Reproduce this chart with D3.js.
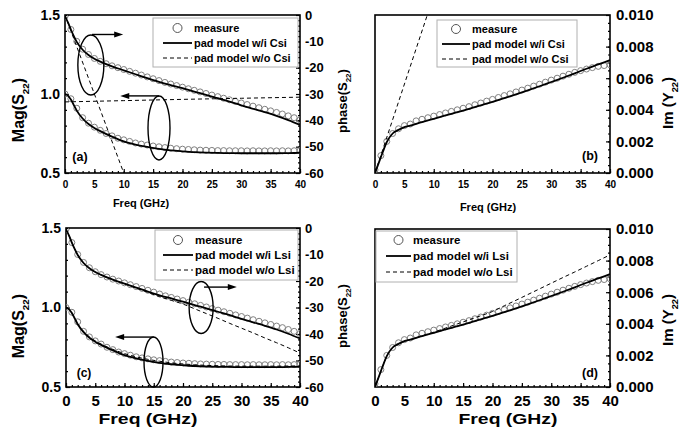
<!DOCTYPE html>
<html><head><meta charset="utf-8">
<script src="https://cdn.jsdelivr.net/npm/d3@7"></script>
<style>
body{margin:0;background:#fff}
svg text{font-family:"Liberation Sans",Arial,sans-serif;font-weight:bold;fill:#000}
</style></head><body>
<svg id="chart" width="692" height="432"></svg>
<script>
// ---- measured data, 1 GHz steps ----
const freqMeas = [0,1,2,3,4,5,6,7,8,9,10,11,12,13,14,15,16,17,18,19,20,21,22,23,24,25,26,27,28,29,30,31,32,33,34,35,36,37,38,39,40];
const magMeas = [1.00,0.97,0.91,0.85,0.815,0.79,0.77,0.75,0.735,0.72,0.71,0.70,0.69,0.683,0.677,0.671,0.666,0.661,0.657,0.654,0.651,0.649,0.647,0.645,0.644,0.643,0.642,0.642,0.641,0.641,0.641,0.640,0.641,0.640,0.640,0.641,0.640,0.641,0.640,0.641,0.642];
const phaseMeas = [-0.5,-5.5,-10,-13,-15,-16.5,-17.6,-18.5,-19.3,-20,-20.7,-21.4,-22.1,-22.8,-23.5,-24.2,-24.9,-25.6,-26.2,-26.8,-27.4,-28.0,-28.6,-29.2,-29.8,-30.4,-31.0,-31.6,-32.2,-32.8,-33.4,-34.0,-34.6,-35.2,-35.8,-36.4,-37.0,-37.6,-38.3,-39.0,-39.8];
const imMeas = [0.0002,0.0011,0.002,0.0025,0.0028,0.003,0.0031,0.0033,0.0034,0.0035,0.0036,0.0037,0.0038,0.0039,0.004,0.0041,0.0042,0.00432,0.00443,0.00455,0.00466,0.00478,0.0049,0.00501,0.00513,0.00525,0.00537,0.0055,0.00562,0.00575,0.00588,0.006,0.00613,0.00625,0.00637,0.00648,0.00658,0.00667,0.00675,0.0068,0.00685];

// ---- pad model curves ----
const freqModel = [0,0.5,1,1.5,2,3,4,5,6,8,10,12,14,16,18,20,22,24,26,28,30,32,34,36,38,40];
const magModel = [1.000,0.99,0.965,0.93,0.895,0.845,0.81,0.785,0.765,0.73,0.70,0.68,0.665,0.652,0.643,0.637,0.632,0.629,0.627,0.626,0.625,0.625,0.625,0.625,0.626,0.627];
const phaseModel = [-0.5,-2.8,-5.5,-8.0,-10.2,-13.2,-15.2,-16.6,-17.7,-19.5,-21.0,-22.5,-24.0,-25.4,-26.6,-27.8,-29.1,-30.3,-31.6,-32.9,-34.3,-35.6,-36.9,-38.3,-39.9,-41.7];
const imModel = [0,0.0005,0.001,0.0015,0.00195,0.0025,0.00273,0.0029,0.003,0.00322,0.00343,0.00364,0.00385,0.00406,0.00428,0.0045,0.00474,0.00498,0.00523,0.00549,0.00576,0.00603,0.00631,0.0066,0.00687,0.00714];

// model without Lsi (same frequency grid)
const magNoLsi = [1.0,0.99,0.966,0.932,0.898,0.85,0.815,0.79,0.77,0.737,0.71,0.69,0.674,0.662,0.652,0.645,0.64,0.636,0.634,0.632,0.631,0.631,0.631,0.631,0.632,0.633];
const phaseNoLsi = [-0.5,-2.8,-5.5,-8.0,-10.2,-13.2,-15.2,-16.6,-17.7,-19.5,-21.0,-22.7,-24.3,-25.9,-27.3,-28.7,-30.5,-32.3,-34.1,-36.0,-37.8,-39.6,-41.5,-43.3,-45.2,-47.2];
const imNoLsi = [0,0.0005,0.001,0.0015,0.00195,0.0025,0.00273,0.0029,0.003,0.00323,0.00347,0.00373,0.00399,0.00425,0.00451,0.00478,0.00514,0.00549,0.00585,0.00621,0.00657,0.00693,0.00728,0.00764,0.008,0.00836];

// model without Csi
const freqNoCsiMag = [0,10,20,30,40];
const magNoCsi = [0.950,0.958,0.966,0.973,0.980];
const freqNoCsiPhase = [0,10];
const phaseNoCsi = [0,-60];
const freqNoCsiIm = [0,8.9];
const imNoCsi = [0,0.010];

// ---- axis ticks ----
const freqTicks = [0,5,10,15,20,25,30,35,40];
const magTicks = [0.5,1.0,1.5];
const phaseTicks = [0,-10,-20,-30,-40,-50,-60];
const imTicks = [0,0.002,0.004,0.006,0.008,0.010];

const svg = d3.select("#chart");

function zipXY(xs, ys){ return xs.map((x,i)=>[x, ys[i]]); }

function rotLabel(g, x, y, main, sub, tail, size){
  const t = g.append("text").attr("transform", `translate(${x},${y}) rotate(-90)`)
    .attr("text-anchor","middle").style("font-size", size+"px");
  t.append("tspan").text(main);
  t.append("tspan").text(sub).style("font-size", (size*0.62)+"px").attr("dy", size*0.3);
  t.append("tspan").text(tail).attr("dy", -size*0.3);
}

function drawPanel(cfg){
  const g = svg.append("g");
  const x = d3.scaleLinear([0,40],[cfg.x0,cfg.x1]);
  const id = "clip"+cfg.name;
  svg.append("clipPath").attr("id", id).append("rect")
    .attr("x",cfg.x0).attr("y",cfg.y0).attr("width",cfg.x1-cfg.x0).attr("height",cfg.y1-cfg.y0);

  // axes
  const xa = g.append("g").attr("transform",`translate(0,${cfg.y1})`)
    .call(d3.axisBottom(x).tickValues(freqTicks).tickSize(-4).tickSizeOuter(0).tickPadding(cfg.xPad).tickFormat(d=>String(d)));
  xa.selectAll("text").style("font-size", cfg.xFont+"px");
  g.append("g").attr("transform",`translate(0,${cfg.y1})`)
    .call(d3.axisBottom(x).tickValues(d3.range(0,41,1)).tickSize(-2).tickSizeOuter(0).tickFormat(""));

  let yL=null, yR=null;
  if (cfg.left){
    yL = d3.scaleLinear(cfg.left.domain,[cfg.y1,cfg.y0]);
    const la = g.append("g").attr("transform",`translate(${cfg.x0},0)`)
      .call(d3.axisLeft(yL).tickValues(cfg.left.ticks).tickSize(-4).tickSizeOuter(0).tickPadding(5).tickFormat(cfg.left.fmt));
    la.selectAll("text").style("font-size", cfg.left.font+"px");
    g.append("g").attr("transform",`translate(${cfg.x0},0)`)
      .call(d3.axisLeft(yL).tickValues(cfg.left.minor).tickSize(-2).tickSizeOuter(0).tickFormat(""));
  }
  yR = d3.scaleLinear(cfg.right.domain,[cfg.y1,cfg.y0]);
  const ra = g.append("g").attr("transform",`translate(${cfg.x1},0)`)
    .call(d3.axisRight(yR).tickValues(cfg.right.ticks).tickSize(-4).tickSizeOuter(0).tickPadding(cfg.right.pad).tickFormat(cfg.right.fmt));
  ra.selectAll("text").style("font-size", cfg.right.font+"px");
  g.append("g").attr("transform",`translate(${cfg.x1},0)`)
    .call(d3.axisRight(yR).tickValues(cfg.right.minor).tickSize(-2).tickSizeOuter(0).tickFormat(""));

  g.selectAll(".domain").remove();
  g.selectAll(".tick line").attr("stroke","#000").attr("stroke-width",1.2);
  g.selectAll(".tick text").attr("fill","#000");

  // frame
  g.append("rect").attr("x",cfg.x0).attr("y",cfg.y0).attr("width",cfg.x1-cfg.x0).attr("height",cfg.y1-cfg.y0)
    .attr("fill","none").attr("stroke","#000").attr("stroke-width",1.6);

  const plot = g.append("g").attr("clip-path",`url(#${id})`);
  const scales = {L:yL, R:yR};
  cfg.series.forEach(s=>{
    const ys = scales[s.axis];
    const pts = zipXY(s.x, s.y);
    if (s.type==="circle"){
      plot.selectAll(null).data(pts).join("circle")
        .attr("cx",d=>x(d[0])).attr("cy",d=>ys(d[1])).attr("r",3)
        .attr("fill","none").attr("stroke","#808080").attr("stroke-width",1);
    } else {
      const line = d3.line().x(d=>x(d[0])).y(d=>ys(d[1])).curve(d3.curveMonotoneX);
      plot.append("path").attr("d",line(pts)).attr("fill","none").attr("stroke","#000")
        .attr("stroke-width", s.type==="solid"?1.8:1)
        .attr("stroke-dasharray", s.type==="dash"?"4,3":null);
    }
  });

  // annotations: ellipse + arrow
  (cfg.notes||[]).forEach(n=>{
    const ys = scales[n.axis];
    g.append("ellipse").attr("cx",x(n.f)).attr("cy",ys(n.v)).attr("rx",n.rx).attr("ry",n.ry)
      .attr("fill","none").attr("stroke","#000").attr("stroke-width",1.4);
    const ay = ys(n.av), ax0 = x(n.af0), ax1 = x(n.af1);
    const dir = Math.sign(ax1-ax0);
    g.append("line").attr("x1",ax0).attr("y1",ay).attr("x2",ax1-dir*7).attr("y2",ay)
      .attr("stroke","#000").attr("stroke-width",1.4);
    g.append("path").attr("d",`M${ax1},${ay} L${ax1-dir*9},${ay-3} L${ax1-dir*9},${ay+3} Z`).attr("fill","#000");
  });

  // legend
  const lg = cfg.legend;
  g.append("rect").attr("x",lg.x).attr("y",lg.y).attr("width",lg.w).attr("height",lg.h)
    .attr("fill","#fff").attr("stroke","#b0b0b0").attr("stroke-width",1);
  lg.rows.forEach((r,i)=>{
    const ry = lg.y + lg.first + i*lg.step;
    if (r.type==="circle"){
      g.append("circle").attr("cx",(lg.lx0+lg.lx1)/2).attr("cy",ry).attr("r",4.5)
        .attr("fill","none").attr("stroke","#555").attr("stroke-width",1);
    } else {
      g.append("line").attr("x1",lg.lx0).attr("x2",lg.lx1).attr("y1",ry).attr("y2",ry)
        .attr("stroke","#000").attr("stroke-width", r.type==="solid"?1.8:1)
        .attr("stroke-dasharray", r.type==="dash"?"4,3":null);
    }
    g.append("text").attr("x",lg.tx).attr("y",ry).attr("dy","0.36em")
      .style("font-size",lg.font+"px").text(r.label);
  });

  // panel tag
  g.append("text").attr("x",cfg.tag.x).attr("y",cfg.tag.y).attr("text-anchor","middle")
    .style("font-size",cfg.tag.font+"px").text(cfg.tag.text);

  // x title
  const xt = g.append("text").attr("x",cfg.xTitle.x).attr("y",cfg.xTitle.y).attr("text-anchor","middle")
    .style("font-size",cfg.xTitle.font+"px").text("Freq (GHz)");
  if (cfg.xTitle.len) xt.attr("textLength",cfg.xTitle.len).attr("lengthAdjust","spacingAndGlyphs");

  (cfg.yTitles||[]).forEach(t=>rotLabel(g,t.x,t.y,t.main,t.sub,t.tail,t.font));
}

const magAxis = {domain:[0.5,1.5], ticks:magTicks, minor:d3.range(0.5,1.501,0.1), fmt:d3.format(".1f"), font:14};
const phaseAxis = {domain:[-60,0], ticks:phaseTicks, minor:d3.range(-60,0.1,2), fmt:d=>String(d), font:13, pad:5};
const imAxis = {domain:[0,0.010], ticks:imTicks, minor:d3.range(0,0.01001,0.0005), fmt:d3.format(".3f"), font:15, pad:6};

// (a) S22 magnitude / phase, Csi
drawPanel({name:"a", x0:65, x1:300, y0:15, y1:173, xFont:10, xPad:8,
  left:magAxis, right:phaseAxis,
  series:[
    {type:"circle", axis:"L", x:freqMeas, y:magMeas},
    {type:"circle", axis:"R", x:freqMeas, y:phaseMeas},
    {type:"solid", axis:"L", x:freqModel, y:magModel},
    {type:"solid", axis:"R", x:freqModel, y:phaseModel},
    {type:"dash", axis:"L", x:freqNoCsiMag, y:magNoCsi},
    {type:"dash", axis:"R", x:freqNoCsiPhase, y:phaseNoCsi}],
  notes:[
    {axis:"R", f:4.4, v:-19, rx:13, ry:30, av:-7.4, af0:4.6, af1:9.9},
    {axis:"L", f:16, v:0.785, rx:11, ry:32, av:0.988, af0:16, af1:9.4}],
  legend:{x:153,y:18,w:145,h:49, first:10, step:15, lx0:163, lx1:192, tx:194, font:11,
    rows:[{type:"circle",label:"measure"},{type:"solid",label:"pad model w/i Csi"},{type:"dash",label:"pad model w/o Csi"}]},
  tag:{x:80,y:161,font:12.5,text:"(a)"},
  xTitle:{x:141,y:207,font:11},
  yTitles:[{x:24,y:110,main:"Mag(S",sub:"22",tail:")",font:16},
           {x:347,y:101,main:"phase(S",sub:"22",tail:")",font:13}]
});

// (b) Im(Y22), Csi
drawPanel({name:"b", x0:375, x1:610, y0:15, y1:173, xFont:10, xPad:8,
  left:null, right:imAxis,
  series:[
    {type:"circle", axis:"R", x:freqMeas, y:imMeas},
    {type:"solid", axis:"R", x:freqModel, y:imModel},
    {type:"dash", axis:"R", x:freqNoCsiIm, y:imNoCsi}],
  legend:{x:437,y:20,w:140,h:47, first:9, step:15, lx0:442, lx1:470, tx:472, font:11,
    rows:[{type:"circle",label:"measure"},{type:"solid",label:"pad model w/i Csi"},{type:"dash",label:"pad model w/o Csi"}]},
  tag:{x:590,y:160,font:12.5,text:"(b)"},
  xTitle:{x:488,y:211,font:11},
  yTitles:[{x:673,y:103,main:"Im (Y",sub:"22",tail:")",font:15}]
});

// (c) S22 magnitude / phase, Lsi
drawPanel({name:"c", x0:66, x1:300, y0:228, y1:387, xFont:15, xPad:8,
  left:magAxis, right:phaseAxis,
  series:[
    {type:"circle", axis:"L", x:freqMeas, y:magMeas},
    {type:"circle", axis:"R", x:freqMeas, y:phaseMeas},
    {type:"solid", axis:"L", x:freqModel, y:magModel},
    {type:"solid", axis:"R", x:freqModel, y:phaseModel},
    {type:"dash", axis:"L", x:freqModel, y:magNoLsi},
    {type:"dash", axis:"R", x:freqModel, y:phaseNoLsi}],
  notes:[
    {axis:"R", f:23.1, v:-30, rx:12, ry:26, av:-22.3, af0:23.6, af1:29.2},
    {axis:"L", f:14.96, v:0.657, rx:9.5, ry:25, av:0.814, af0:15, af1:8.4}],
  legend:{x:155,y:230,w:143,h:50, first:10, step:15, lx0:163, lx1:193, tx:195, font:11.5,
    rows:[{type:"circle",label:"measure"},{type:"solid",label:"pad model w/i Lsi"},{type:"dash",label:"pad model w/o Lsi"}]},
  tag:{x:84,y:377,font:12,text:"(c)"},
  xTitle:{x:148,y:424,font:15,len:99},
  yTitles:[{x:24,y:326,main:"Mag(S",sub:"22",tail:")",font:16},
           {x:347,y:316,main:"phase(S",sub:"22",tail:")",font:13}]
});

// (d) Im(Y22), Lsi
drawPanel({name:"d", x0:375, x1:610, y0:229, y1:387, xFont:15, xPad:8,
  left:null, right:imAxis,
  series:[
    {type:"circle", axis:"R", x:freqMeas, y:imMeas},
    {type:"solid", axis:"R", x:freqModel, y:imModel},
    {type:"dash", axis:"R", x:freqModel, y:imNoLsi}],
  legend:{x:376,y:231,w:141,h:51, first:9, step:16, lx0:386, lx1:411, tx:413, font:11.5,
    rows:[{type:"circle",label:"measure"},{type:"solid",label:"pad model w/i Lsi"},{type:"dash",label:"pad model w/o Lsi"}]},
  tag:{x:590,y:377,font:12.5,text:"(d)"},
  xTitle:{x:508,y:424,font:15,len:99},
  yTitles:[{x:673,y:320,main:"Im (Y",sub:"22",tail:")",font:15}]
});
</script>
</body></html>
